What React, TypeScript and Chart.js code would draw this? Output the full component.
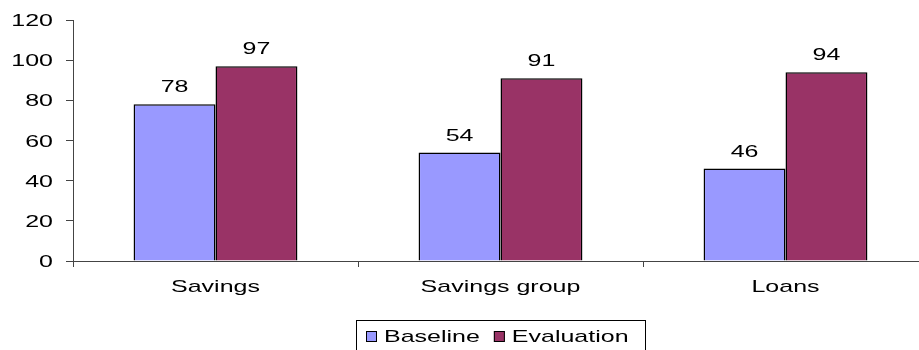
import React, { useEffect, useRef } from "react";
import { Chart, registerables } from "chart.js";

Chart.register(...registerables);

const categories = ["Savings", "Savings group", "Loans"];
const seriesNames = ["Baseline", "Evaluation"];
const baselineValues = [78, 54, 46];
const evaluationValues = [97, 91, 94];
const seriesColors = ["#9999FF", "#993366"];
const yMin = 0;
const yMax = 120;
const yStep = 20;

const FONT = '17px "Liberation Sans", Arial, sans-serif';
const SX = 1.47;

function stretchText(ctx: CanvasRenderingContext2D, text: string, x: number, y: number, align: CanvasTextAlign) {
  ctx.save();
  ctx.translate(x, y);
  ctx.scale(SX, 1);
  ctx.font = FONT;
  ctx.fillStyle = "#000";
  ctx.textAlign = align;
  ctx.textBaseline = "alphabetic";
  ctx.fillText(text, 0, 0);
  ctx.restore();
}

const textPlugin = {
  id: "stretchedText",
  afterDraw(chart: any) {
    const ctx: CanvasRenderingContext2D = chart.ctx;
    const ys = chart.scales.y;
    const xs = chart.scales.x;
    ys.ticks.forEach((t: any, i: number) => {
      stretchText(ctx, String(t.value), 53, ys.getPixelForTick(i) + 6, "right");
    });
    xs.ticks.forEach((t: any, i: number) => {
      stretchText(ctx, String(xs.getLabelForValue(t.value)), xs.getPixelForTick(i), 292, "center");
    });
    chart.data.datasets.forEach((ds: any, di: number) => {
      const meta = chart.getDatasetMeta(di);
      meta.data.forEach((el: any, j: number) => {
        stretchText(ctx, String(ds.data[j]), el.x, el.y - 12, "center");
      });
    });
    // legend
    ctx.save();
    ctx.font = FONT;
    const padL = 10, padR = 16, sq = 11, gap = 7, itemGap = 14;
    const widths = chart.data.datasets.map((ds: any) => ctx.measureText(ds.label).width * SX);
    let total = padL + padR;
    widths.forEach((w: number, i: number) => {
      total += sq + gap + w + (i > 0 ? itemGap : 0);
    });
    const cx = (chart.chartArea.left + chart.chartArea.right) / 2;
    const left = Math.round(cx - total / 2);
    const top = 320;
    ctx.strokeStyle = "#000";
    ctx.lineWidth = 1;
    ctx.strokeRect(left + 0.5, top + 0.5, Math.round(total), 45);
    let x = left + padL;
    chart.data.datasets.forEach((ds: any, i: number) => {
      ctx.fillStyle = ds.backgroundColor;
      ctx.fillRect(x, 331, sq, sq);
      ctx.strokeStyle = "#000";
      ctx.strokeRect(x + 0.5, 331.5, sq - 1, sq - 1);
      x += sq + gap;
      stretchText(ctx, ds.label, x, 342, "left");
      x += widths[i] + itemGap;
    });
    ctx.restore();
  },
};

export default function App() {
  const ref = useRef<HTMLCanvasElement>(null);
  useEffect(() => {
    if (!ref.current) return;
    const chart = new Chart(ref.current, {
      type: "bar",
      data: {
        labels: categories,
        datasets: [
          {
            label: seriesNames[0],
            data: baselineValues,
            backgroundColor: seriesColors[0],
            borderColor: "#000",
            borderWidth: 1.5,
            barPercentage: 1,
            categoryPercentage: 0.575,
          },
          {
            label: seriesNames[1],
            data: evaluationValues,
            backgroundColor: seriesColors[1],
            borderColor: "#000",
            borderWidth: 1.5,
            barPercentage: 1,
            categoryPercentage: 0.575,
          },
        ],
      },
      options: {
        responsive: false,
        animation: false,
        layout: { padding: { left: 0, top: 20, right: 7, bottom: 0 } },
        plugins: {
          legend: { display: false },
          tooltip: { enabled: false },
        },
        scales: {
          x: {
            ticks: { display: false },
            grid: { display: true, drawOnChartArea: false, drawTicks: true, tickLength: 6, color: "#444", offset: true },
            border: { display: true, color: "#444", width: 1 },
            afterFit: (s: any) => { s.height = 89; },
          },
          y: {
            min: yMin,
            max: yMax,
            ticks: { display: false, stepSize: yStep },
            grid: { display: true, drawOnChartArea: false, drawTicks: true, tickLength: 7, color: "#444" },
            border: { display: true, color: "#444", width: 1 },
            afterFit: (s: any) => { s.width = 73; },
          },
        },
      },
      plugins: [textPlugin],
    });
    return () => chart.destroy();
  }, []);
  return (
    <div style={{ position: "absolute", left: 0, top: 0, width: 919, height: 350, overflow: "hidden", background: "#fff" }}>
      <canvas ref={ref} width={935} height={350} style={{ display: "block" }} />
    </div>
  );
}
